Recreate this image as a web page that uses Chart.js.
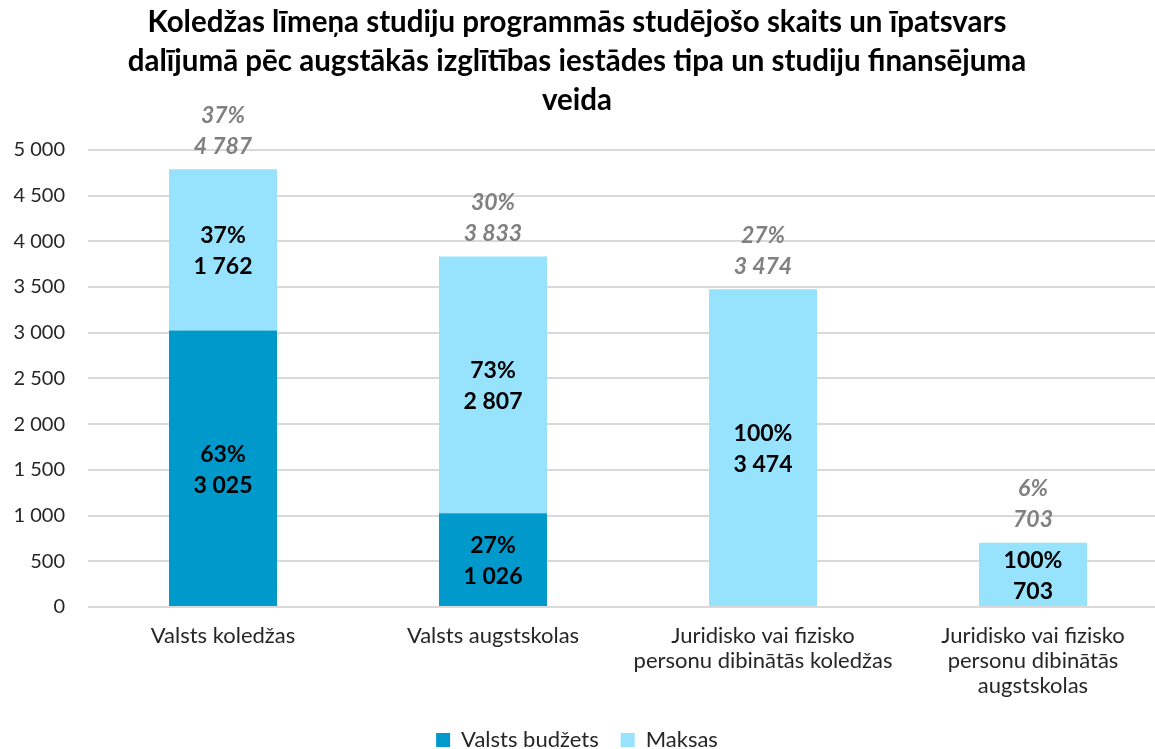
<!DOCTYPE html>
<html>
<head>
<meta charset="utf-8">
<script src="https://cdn.jsdelivr.net/npm/chart.js@4"></script>
<style>
  html, body { margin: 0; padding: 0; background: #fff; overflow: hidden; }
</style>
</head>
<body>
<canvas id="myChart" width="1170" height="761"></canvas>
<script>
var categories = [
    "Valsts koledžas",
    "Valsts augstskolas",
    ["Juridisko vai fizisko", "personu dibinātās koledžas"],
    ["Juridisko vai fizisko", "personu dibinātās", "augstskolas"]
];
var budgetValues = [3025, 1026, 0, 0];
var paidValues = [1762, 2807, 3474, 703];
// shares as printed on the chart (percent)
var budgetShares = [63, 27, 0, 0];
var paidShares = [37, 73, 100, 100];
var totalShares = [37, 30, 27, 6];
var seriesNames = ["Valsts budžets", "Maksas"];
var barColors = ["#0099cc", "#97e2fc"];
var titleLines = [
    "Koledžas līmeņa studiju programmās studējošo skaits un īpatsvars",
    "dalījumā pēc augstākās izglītības iestādes tipa un studiju finansējuma",
    "veida"
];

var fontName = "Lato, 'Open Sans', sans-serif";

function fmt(v) {
    return String(v).replace(/\B(?=(\d{3})+(?!\d))/g, " ");
}

// draws the percent / value labels inside the bars and the totals above them
var barLabels = {
    id: "barLabels",
    afterDatasetsDraw: function (chart) {
        var ctx = chart.ctx;
        var shares = [budgetShares, paidShares];
        ctx.save();
        ctx.textAlign = "center";
        ctx.textBaseline = "middle";

        chart.data.datasets.forEach(function (ds, di) {
            var meta = chart.getDatasetMeta(di);
            meta.data.forEach(function (bar, i) {
                var v = ds.data[i];
                if (!v) return;
                var mid = (bar.y + bar.base) / 2;
                ctx.fillStyle = "#000";
                ctx.font = "bold 23px " + fontName;
                ctx.fillText(shares[di][i] + "%", bar.x, mid - 14);
                ctx.fillText(fmt(v), bar.x, mid + 17);
            });
        });

        var topMeta = chart.getDatasetMeta(1);
        topMeta.data.forEach(function (bar, i) {
            var total = budgetValues[i] + paidValues[i];
            ctx.fillStyle = "#808080";
            ctx.font = "italic bold 23px " + fontName;
            ctx.fillText(totalShares[i] + "%", bar.x, bar.y - 54);
            ctx.fillText(fmt(total), bar.x, bar.y - 23);
        });
        ctx.restore();
    }
};

new Chart("myChart", {
    type: "bar",
    data: {
        labels: categories,
        datasets: [{
            label: seriesNames[0],
            data: budgetValues,
            backgroundColor: barColors[0],
            barPercentage: 0.4,
            categoryPercentage: 1
        }, {
            label: seriesNames[1],
            data: paidValues,
            backgroundColor: barColors[1],
            barPercentage: 0.4,
            categoryPercentage: 1
        }]
    },
    options: {
        responsive: false,
        animation: false,
        // canvas is wider than the page: the plot runs past the right edge like the original
        layout: {padding: {left: -14, right: 2, top: 0, bottom: 0}},
        scales: {
            x: {
                stacked: true,
                grid: {display: false, drawTicks: false},
                border: {display: false},
                ticks: {
                    color: "#262626",
                    font: {family: fontName, size: 22, lineHeight: 1.14},
                    padding: 16,
                    maxRotation: 0,
                    autoSkip: false
                },
                afterFit: function (scale) { scale.height = 100; }
            },
            y: {
                stacked: true,
                min: 0,
                max: 5000,
                grid: {color: "#d9d9d9", lineWidth: 2, drawTicks: false},
                border: {display: false},
                ticks: {
                    stepSize: 500,
                    color: "#262626",
                    padding: 23,
                    font: {family: fontName, size: 20},
                    callback: function (v) { return fmt(v); }
                },
                afterFit: function (scale) { scale.width = 102; }
            }
        },
        plugins: {
            title: {
                display: true,
                text: titleLines,
                color: "#000",
                font: {family: fontName, size: 29.5, weight: "bold", lineHeight: 1.32},
                padding: {top: 3, bottom: 30}
            },
            legend: {
                position: "bottom",
                labels: {
                    color: "#262626",
                    font: {family: fontName, size: 22},
                    boxWidth: 14,
                    boxHeight: 14,
                    padding: 22
                }
            },
            tooltip: {enabled: false}
        }
    },
    plugins: [barLabels]
});
</script>
</body>
</html>
